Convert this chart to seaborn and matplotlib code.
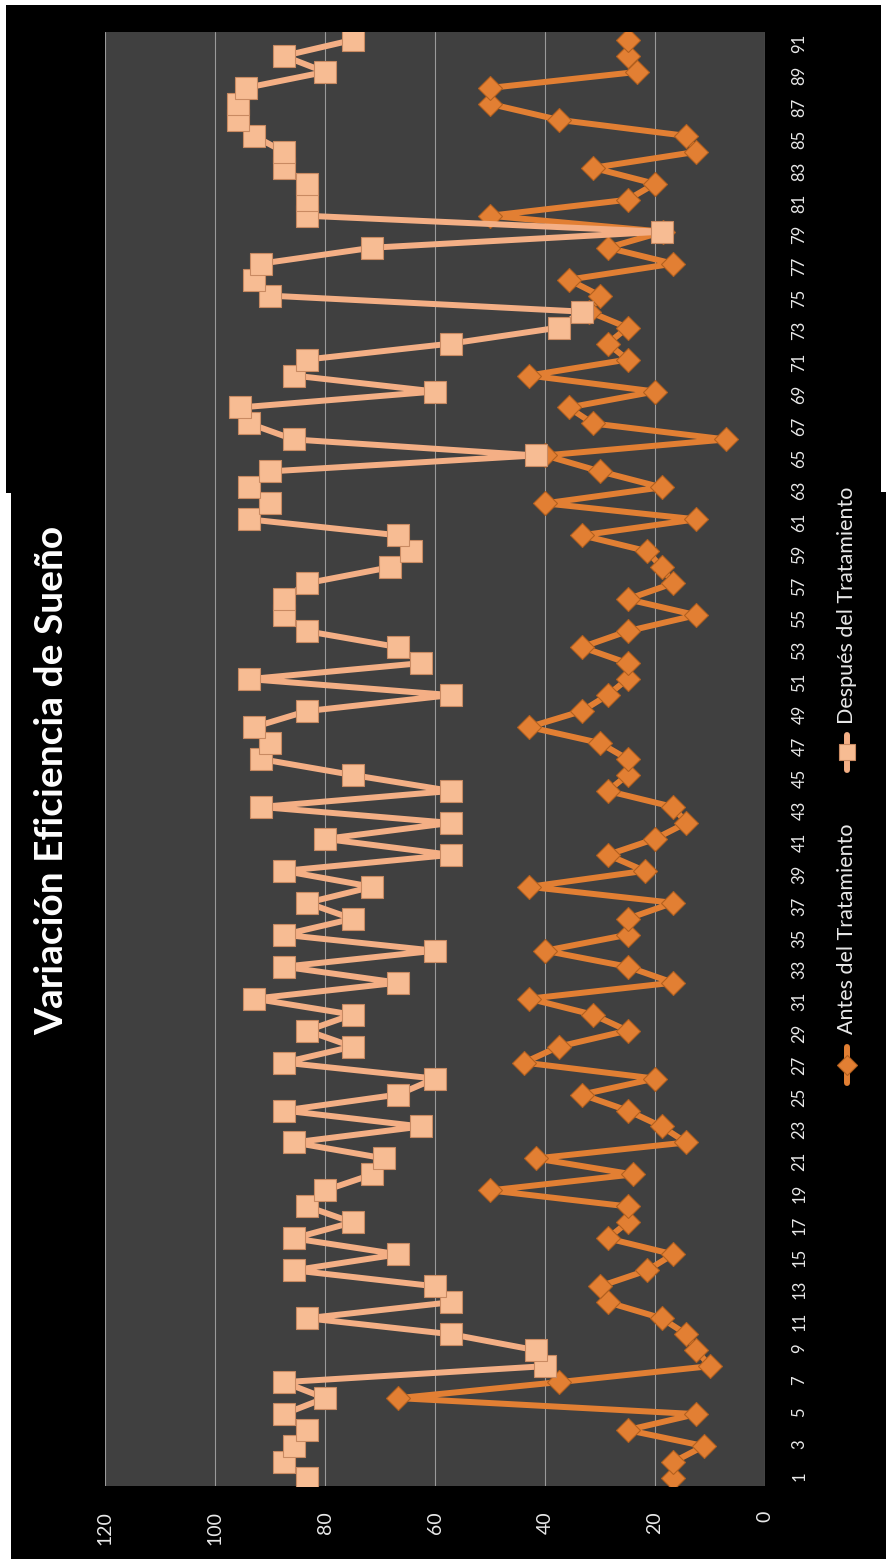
import matplotlib
matplotlib.use("Agg")
import matplotlib.pyplot as plt
from matplotlib.lines import Line2D
from matplotlib.patches import Rectangle
import pandas as pd
import seaborn as sns

# ---- data -----------------------------------------------------------------
dias = list(range(1, 92))

antes = [16.7, 16.7, 11.1, 25, 12.5, 66.7, 37.5, 10, 12.5, 14.3,
         18.8, 28.6, 30, 21.4, 16.7, 28.6, 25, 25, 50, 24,
         41.7, 14.3, 18.8, 25, 33.3, 20, 43.8, 37.5, 25, 31.3,
         42.9, 16.7, 25, 40, 25, 25, 16.7, 42.9, 21.9, 28.6,
         20, 14.3, 16.7, 28.6, 25, 25, 30, 42.9, 33.3, 28.6,
         25, 25, 33.3, 25, 12.5, 25, 16.7, 18.8, 21.4, 33.3,
         12.5, 40, 18.8, 30, 40, 7.1, 31.3, 35.7, 20, 42.9,
         25, 28.6, 25, 32, 30, 35.7, 16.7, 28.6, 18.5, 50,
         25, 20, 31.3, 12.5, 14.3, 37.5, 50, 50, 23.3, 25,
         25]

despues = [83.3, 87.5, 85.7, 83.3, 87.5, 80, 87.5, 40, 41.7, 57.1,
           83.3, 57.1, 60, 85.7, 66.7, 85.7, 75, 83.3, 80, 71.4,
           69.2, 85.7, 62.5, 87.5, 66.7, 60, 87.5, 75, 83.3, 75,
           92.9, 66.7, 87.5, 60, 87.5, 75, 83.3, 71.4, 87.5, 57.1,
           80, 57.1, 91.7, 57.1, 75, 91.7, 90, 92.9, 83.3, 57.1,
           93.8, 62.5, 66.7, 83.3, 87.5, 87.5, 83.3, 68.2, 64.3, 66.7,
           93.8, 90, 93.8, 90, 41.7, 85.7, 93.8, 95.5, 60, 85.7,
           83.3, 57.1, 37.5, 33.3, 90, 92.9, 91.7, 71.4, 18.8, 83.3,
           83.3, 83.3, 87.5, 87.5, 92.9, 95.8, 95.8, 94.4, 80, 87.5,
           75]

ticks_valor = [0, 20, 40, 60, 80, 100, 120]
ticks_dia = list(range(1, 92, 2))

titulo = "Variación Eficiencia de Sueño"
serie_antes = "Antes del Tratamiento"
serie_despues = "Después del Tratamiento"

# ---- style ------------------------------------------------------------------
W, H = 886, 1562
sns.set_theme(style="dark")
plt.rcParams["font.family"] = ["Lato", "DejaVu Sans"]

c_antes = "#E27F33"
c_antes_edge = "#B3601F"
c_desp = "#F4AF85"
c_desp_face = "#F7BC93"
c_desp_edge = "#C98A62"
c_text = "#E8E8E8"


def fx(px):
    return px / W


def fy(py):
    return 1 - py / H


fig = plt.figure(figsize=(W / 100, H / 100), dpi=100, facecolor="white")

# black chart backdrop (two slightly offset panels)
fig.patches.append(Rectangle((fx(6), fy(493)), (881 - 6) / W, (493 - 5) / H,
                             transform=fig.transFigure, facecolor="black",
                             edgecolor="none", zorder=-1))
fig.patches.append(Rectangle((fx(11), fy(1559)), (886 - 11) / W, (1559 - 492) / H,
                             transform=fig.transFigure, facecolor="black",
                             edgecolor="none", zorder=-1))

ax = fig.add_axes([fx(105), fy(1486), 660 / W, (1486 - 32) / H])
ax.set_facecolor("#404040")

df = pd.DataFrame({"dia": dias, "antes": antes, "despues": despues})

sns.lineplot(data=df, x="antes", y="dia", sort=False, estimator=None,
             orient="y", color=c_antes, lw=4.3, marker="D", markersize=12.5,
             markerfacecolor=c_antes, markeredgecolor=c_antes_edge,
             markeredgewidth=0.8, ax=ax, zorder=3)
sns.lineplot(data=df, x="despues", y="dia", sort=False, estimator=None,
             orient="y", color=c_desp, lw=4.3, marker="s", markersize=16,
             markerfacecolor=c_desp_face, markeredgecolor=c_desp_edge,
             markeredgewidth=0.8, ax=ax, zorder=4)

ax.set_xlim(120, 0)
ax.set_ylim(0.5, 91.5)
ax.set_xticks(ticks_valor)
ax.set_xticklabels([str(v) for v in ticks_valor], rotation=90)
ax.set_yticks(ticks_dia)
ax.set_yticklabels([str(d) for d in ticks_dia], rotation=90)
ax.yaxis.tick_right()
ax.set_xlabel("")
ax.set_ylabel("")
ax.tick_params(axis="x", labelsize=14, colors=c_text, length=0, pad=18)
ax.tick_params(axis="y", labelsize=12, colors=c_text, length=0, pad=19)
ax.grid(axis="x", color="#9a9a9a", lw=0.8)
ax.grid(axis="y", visible=False)
for s in ax.spines.values():
    s.set_visible(False)

# title, reading upward along the left side
fig.text(fx(52), fy(780), titulo, rotation=90, ha="center", va="center",
         fontsize=28, fontweight="bold", color="white")

# legend on the right, drawn vertically
leg_x = 847
fig.add_artist(Line2D([fx(leg_x), fx(leg_x)], [fy(1083), fy(1047)],
                      transform=fig.transFigure, color=c_antes, lw=4.3))
fig.add_artist(Line2D([fx(leg_x)], [fy(1065)], transform=fig.transFigure,
                      marker="D", markersize=10, color=c_antes,
                      markeredgecolor=c_antes_edge, markeredgewidth=0.8))
fig.text(fx(leg_x), fy(1034), serie_antes, rotation=90, rotation_mode="anchor",
         ha="left", va="center", fontsize=15.5, color=c_text)

fig.add_artist(Line2D([fx(leg_x), fx(leg_x)], [fy(770), fy(735)],
                      transform=fig.transFigure, color=c_desp, lw=4.3))
fig.add_artist(Line2D([fx(leg_x)], [fy(752)], transform=fig.transFigure,
                      marker="s", markersize=12, color=c_desp_face,
                      markeredgecolor=c_desp_edge, markeredgewidth=0.8))
fig.text(fx(leg_x), fy(724), serie_despues, rotation=90, rotation_mode="anchor",
         ha="left", va="center", fontsize=15.5, color=c_text)

fig.savefig("out.png", dpi=100, facecolor="white")
